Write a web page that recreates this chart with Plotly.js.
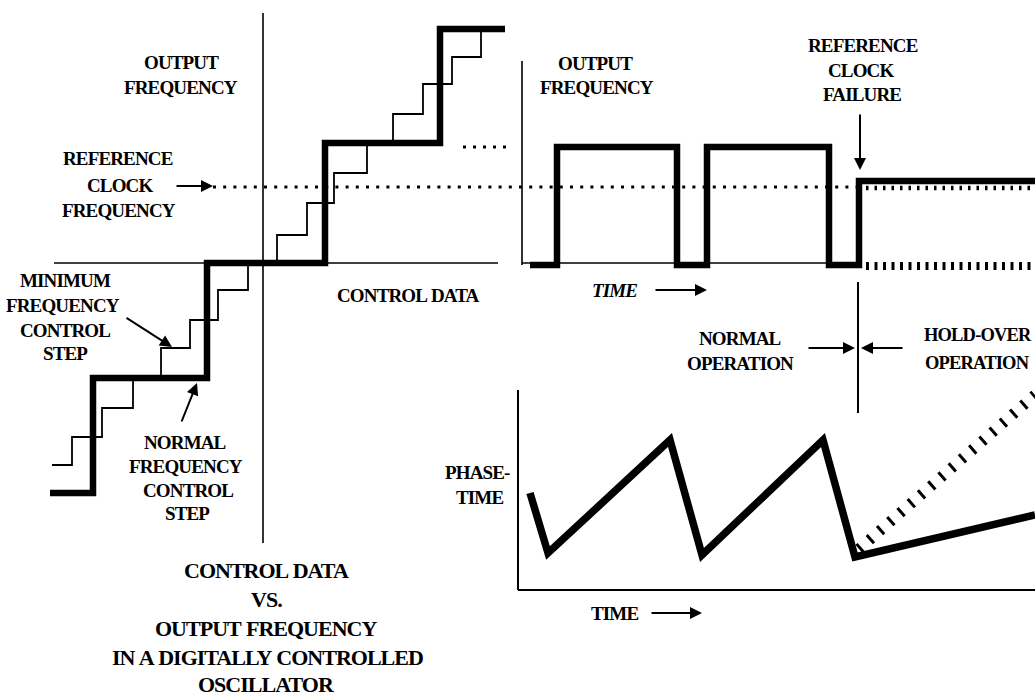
<!DOCTYPE html>
<html>
<head>
<meta charset="utf-8">
<script src="https://cdn.plot.ly/plotly-3.0.1.min.js"></script>
<style>
html,body{margin:0;padding:0;background:#fff;}
#chart{width:1035px;height:697px;}
text.annotation-text{letter-spacing:-0.045em;word-spacing:0.05em;}
</style>
</head>
<body>
<div id="chart"></div>
<script>
// ---- DATA (drawing units: 0..1035 across, 0..697 down) ----
// Left panel: control data vs output frequency
const leftAxisVX = [263, 263], leftAxisVY = [13, 543];
const leftAxisHX = [54, 498],  leftAxisHY = [263, 263];
const normalStepX = [50, 93, 93, 207, 207, 325, 325, 440, 440, 505];
const normalStepY = [493, 493, 378, 378, 263, 263, 143, 143, 29, 29];
const minStepX = [52, 72, 72, 102, 102, 133, 133, 161, 161, 190, 190, 218, 218, 248, 248, 277, 277, 307, 307, 334, 334, 367, 367, 393, 393, 423, 423, 452, 452, 481, 481];
const minStepY = [465, 465, 437, 437, 408, 408, 378, 378, 348, 348, 320, 320, 290, 290, 263, 263, 235, 235, 203, 203, 173, 173, 143, 143, 114, 114, 84, 84, 57, 57, 30];
const refClockX = [213, 858], refClockY = [187, 187];
const contDotsX = [463, 506], contDotsY = [147, 147];

// Top right: output frequency vs time
const topAxisVX = [522, 522], topAxisVY = [61, 265];
const topAxisHX = [522, 862], topAxisHY = [263, 263];
const freqX = [530, 557, 557, 677, 677, 707, 707, 829, 829, 859, 859, 1035];
const freqY = [265, 265, 147, 147, 265, 265, 147, 147, 265, 265, 181, 181];
const holdRefX = [866, 1035], holdRefY = [188, 188];
const holdLowX = [866, 1035], holdLowY = [266, 266];
const sepX = [858, 858], sepY = [282, 413];

// Bottom right: phase-time vs time
const botAxisVX = [518, 518], botAxisVY = [390, 590];
const botAxisHX = [518, 1035], botAxisHY = [590, 590];
const phaseX = [530, 548, 670, 702, 823, 855, 1035];
const phaseY = [493, 553, 440, 555, 440, 557, 515];
const phaseDriftX = [859, 1035], phaseDriftY = [549, 395];

// Text labels
const labelTexts = [
  ['OUTPUT', 181, 62], ['FREQUENCY', 181, 87],
  ['REFERENCE', 118, 158], ['CLOCK', 120, 185], ['FREQUENCY', 119, 210],
  ['MINIMUM', 65, 280], ['FREQUENCY', 63, 305], ['CONTROL', 65, 330], ['STEP', 65, 353],
  ['NORMAL', 185, 442], ['FREQUENCY', 186, 466], ['CONTROL', 188, 490], ['STEP', 187, 513],
  ['CONTROL DATA', 408, 295],
  ['OUTPUT', 595, 63], ['FREQUENCY', 597, 87],
  ['REFERENCE', 863, 45], ['CLOCK', 861, 70], ['FAILURE', 862, 94],
  ['NORMAL', 740, 338], ['OPERATION', 740, 363],
  ['PHASE-', 477, 472], ['TIME', 479, 497],
  ['TIME', 614, 613]
];
const titleTexts = [
  ['CONTROL DATA', 266, 570], ['VS.', 266, 599], ['OUTPUT FREQUENCY', 266, 628],
  ['IN A DIGITALLY CONTROLLED', 267, 657], ['OSCILLATOR', 266, 684]
];
const leftTexts = [['HOLD-OVER', 922, 335], ['OPERATION', 923, 363]];
// Arrows: [tipX, tipY, tailX, tailY]
const arrows = [
  [213, 186, 175, 186], [172, 347, 125, 317], [197, 383, 181, 423],
  [707, 290, 654, 290], [860, 170, 860, 113],
  [855, 348, 807, 348], [861, 348, 904, 348],
  [702, 613, 650, 613]
];

// ---- TRACES ----
function ln(x, y, w, dash) {
  return {x: x, y: y, type: 'scatter', mode: 'lines', hoverinfo: 'skip',
          line: {color: '#000', width: w, dash: dash || 'solid'}};
}
const traces = [
  ln(leftAxisVX, leftAxisVY, 1.6), ln(leftAxisHX, leftAxisHY, 1.6),
  ln(refClockX, refClockY, 3, '3px,7.2px'), ln(contDotsX, contDotsY, 3, '3px,7px'),
  ln(minStepX, minStepY, 1.8), ln(normalStepX, normalStepY, 6.5),
  ln(topAxisVX, topAxisVY, 1.6), ln(topAxisHX, topAxisHY, 1.6),
  ln(holdRefX, holdRefY, 4.5, '2.5px,6px'), ln(holdLowX, holdLowY, 8, '3px,5.5px'),
  ln(freqX, freqY, 6.5), ln(sepX, sepY, 2),
  ln(botAxisVX, botAxisVY, 2), ln(botAxisHX, botAxisHY, 2),
  ln(phaseDriftX, phaseDriftY, 11, '3px,10.6px'), ln(phaseX, phaseY, 7.5)
];

const font = {family: '"Liberation Serif", "Times New Roman", serif', size: 19, color: '#000', weight: 'bold'};
const annotations = [];
labelTexts.forEach(t => annotations.push({x: t[1], y: t[2], text: t[0], showarrow: false, font: font, xanchor: 'center', yanchor: 'middle'}));
titleTexts.forEach(t => annotations.push({x: t[1], y: t[2], text: t[0], showarrow: false, font: Object.assign({}, font, {size: 22}), xanchor: 'center', yanchor: 'middle'}));
leftTexts.forEach(t => annotations.push({x: t[1], y: t[2], text: t[0], showarrow: false, font: Object.assign({}, font, {size: 18.5}), xanchor: 'left', yanchor: 'middle'}));
annotations.push({x: 614, y: 290, text: '<i>TIME</i>', showarrow: false, font: font, xanchor: 'center', yanchor: 'middle'});
arrows.forEach(a => annotations.push({x: a[0], y: a[1], ax: a[2], ay: a[3], axref: 'x', ayref: 'y', text: '', showarrow: true, arrowhead: 2, arrowsize: 1.2, arrowwidth: 2, arrowcolor: '#000'}));

const layout = {
  width: 1035, height: 697,
  margin: {l: 0, r: 0, t: 0, b: 0, pad: 0},
  paper_bgcolor: '#fff', plot_bgcolor: '#fff',
  showlegend: false,
  xaxis: {range: [0, 1035], visible: false, fixedrange: true},
  yaxis: {range: [697, 0], visible: false, fixedrange: true},
  annotations: annotations
};
Plotly.newPlot('chart', traces, layout, {staticPlot: true, displayModeBar: false});
</script>
</body>
</html>
